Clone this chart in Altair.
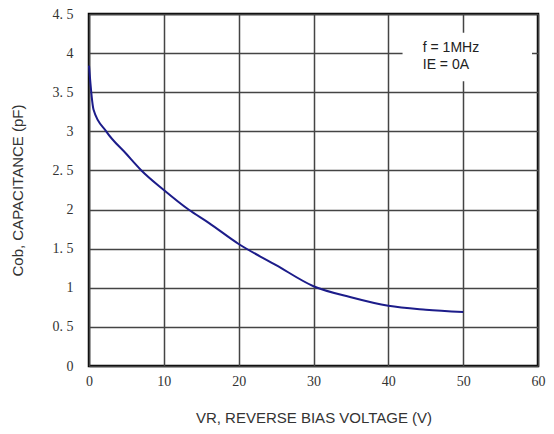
import altair as alt
import pandas as pd

# curve data
vr = [0.0, 0.6, 2.3, 5, 7, 10, 13.3, 16, 20, 25, 30, 35, 40, 45, 50]
cob = [3.84, 3.28, 3.0, 2.71, 2.5, 2.25, 2.0, 1.83, 1.56, 1.29, 1.02, 0.88, 0.77, 0.72, 0.69]

x_ticks = [0, 10, 20, 30, 40, 50, 60]
y_ticks = [0, 0.5, 1, 1.5, 2, 2.5, 3, 3.5, 4, 4.5]

note_lines = ["f = 1MHz", "IE = 0A"]
note_x = [44.6, 44.6]
note_y = [4.07, 3.85]
box = {"x": [41.9], "x2": [59.2], "y": [3.64], "y2": [4.26]}

df = pd.DataFrame({"VR": vr, "Cob": cob})
notes = pd.DataFrame({"VR": note_x, "Cob": note_y, "t": note_lines})
boxdf = pd.DataFrame({"VR": box["x"], "VR2": box["x2"], "Cob": box["y"], "Cob2": box["y2"]})

xs = alt.Scale(domain=[0, 60], nice=False)
ys = alt.Scale(domain=[0, 4.5], nice=False)

x_axis = alt.Axis(values=x_ticks, title="VR, REVERSE BIAS VOLTAGE (V)", grid=True,
                  ticks=False, domain=False, labelFont="Liberation Serif", labelFontSize=14,
                  labelColor="#333", labelPadding=8, labelOverlap=False,
                  labelFlush=False, titleFont="Liberation Sans",
                  titleFontSize=15, titleFontWeight="normal", titleColor="#333",
                  titlePadding=22, gridColor="#444", gridWidth=1.5, gridOpacity=1)
y_axis = alt.Axis(values=y_ticks, title="Cob, CAPACITANCE (pF)", grid=True,
                  ticks=False, domain=False, labelFont="Liberation Serif", labelFontSize=14,
                  labelColor="#333", labelPadding=16, labelOverlap=False, labelFlush=False,
                  labelExpr="replace(toString(datum.value), '.', '. ')",
                  titleFont="Liberation Sans", titleFontSize=15, titleFontWeight="normal",
                  titleColor="#333", titlePadding=27, gridColor="#444", gridWidth=1.5,
                  gridOpacity=1)

X = alt.X("VR:Q", scale=xs, axis=x_axis)
Y = alt.Y("Cob:Q", scale=ys, axis=y_axis)

line = alt.Chart(df).mark_line(color="#1c1c8a", strokeWidth=2,
                               interpolate="monotone").encode(x=X, y=Y)

rect = alt.Chart(boxdf).mark_rect(color="white").encode(x=X, x2="VR2", y=Y, y2="Cob2")

text = alt.Chart(notes).mark_text(align="left", baseline="middle", font="Liberation Sans",
                                  fontSize=14, color="#222").encode(x=X, y=Y, text="t:N")

chart = alt.layer(line, rect, text).properties(
    width=449, height=352,
    background="white",
    autosize=alt.AutoSizeParams(type="none"),
    padding={"left": 81, "top": 6, "right": 8, "bottom": 60},
).configure_view(stroke="black", strokeWidth=2.5, strokeOpacity=1)

chart.save("out.html", embed_options={"renderer": "svg", "actions": False})
